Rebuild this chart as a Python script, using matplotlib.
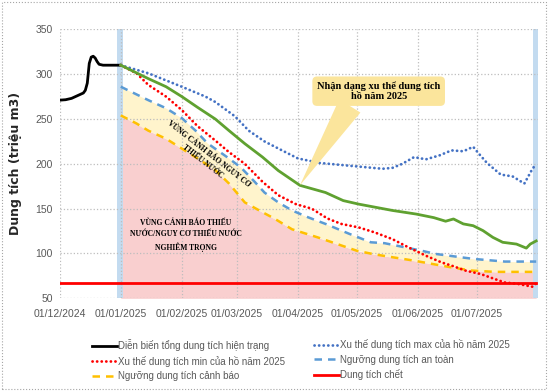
import numpy as np
import pandas as pd
import matplotlib
matplotlib.use('Agg')
import matplotlib.pyplot as plt
import matplotlib.dates as mdates
from matplotlib.patches import Rectangle

plt.rcParams['font.family'] = ['Liberation Sans Narrow', 'Liberation Sans', 'DejaVu Sans']

# --- du lieu doc tu hinh ---
black_dates = ['2024-12-01', '2024-12-04', '2024-12-07', '2024-12-11', '2024-12-13', '2024-12-14',
               '2024-12-15', '2024-12-16', '2024-12-17', '2024-12-18', '2024-12-19', '2024-12-20',
               '2024-12-21', '2024-12-23', '2025-01-01']
black_vals = [271, 271.5, 273, 277, 279, 282, 290, 312, 319, 320, 318, 314, 311, 310, 310]

max_dates = ['2025-01-01', '2025-01-15', '2025-02-01', '2025-02-13', '2025-02-18', '2025-02-28',
             '2025-03-07', '2025-03-15', '2025-03-23', '2025-04-01', '2025-04-12', '2025-04-29',
             '2025-05-14', '2025-05-19', '2025-05-24', '2025-05-30', '2025-06-05', '2025-06-12',
             '2025-06-18', '2025-06-24', '2025-06-29', '2025-07-02', '2025-07-06', '2025-07-13',
             '2025-07-19', '2025-07-25', '2025-07-29', '2025-07-31']
max_vals = [310, 301, 286, 275, 269, 253, 237, 225, 216, 206, 201, 197.5,
            194.5, 195.5, 200, 207.5, 205, 209.5, 215, 214, 219, 211, 201, 188,
            186, 178, 194, 200]

green_dates = ['2025-01-01', '2025-01-15', '2025-01-24', '2025-02-01', '2025-02-09', '2025-02-18',
               '2025-02-25', '2025-03-05', '2025-03-14', '2025-03-22', '2025-04-02', '2025-04-15',
               '2025-04-24', '2025-05-02', '2025-05-19', '2025-05-31', '2025-06-09', '2025-06-15',
               '2025-06-19', '2025-06-24', '2025-06-29', '2025-07-04', '2025-07-09', '2025-07-14',
               '2025-07-21', '2025-07-26', '2025-07-28', '2025-07-31']
green_vals = [310, 295, 286, 275, 263, 250, 237, 222.5, 207.5, 192.5, 176, 168,
              159, 155, 148, 144, 140, 136, 138.5, 133, 131, 125.5, 118, 112.5,
              110.5, 106, 110.5, 114]

min_dates = ['2025-01-01', '2025-01-09', '2025-01-15', '2025-01-24', '2025-02-01', '2025-02-09',
             '2025-02-18', '2025-02-25', '2025-03-05', '2025-03-14', '2025-03-22', '2025-03-31',
             '2025-04-08', '2025-04-16', '2025-04-23', '2025-05-02', '2025-05-10', '2025-05-19',
             '2025-05-27', '2025-06-05', '2025-06-13', '2025-06-18', '2025-06-25', '2025-07-03',
             '2025-07-10', '2025-07-15', '2025-07-22', '2025-07-29', '2025-07-31']
min_vals = [310, 301, 288, 275, 260, 242, 226, 213, 200, 180, 165, 155,
            150, 139, 133, 129, 123.5, 116, 107, 97.5, 90, 86.5, 81, 77,
            71.5, 67.7, 66, 63, 66.5]

safe_dates = ['2025-01-01', '2025-01-15', '2025-01-24', '2025-02-01', '2025-02-08', '2025-02-14',
              '2025-02-24', '2025-03-03', '2025-03-10', '2025-03-15', '2025-03-22', '2025-03-29',
              '2025-04-06', '2025-04-15', '2025-04-27', '2025-05-08', '2025-05-15', '2025-06-03',
              '2025-06-10', '2025-06-29', '2025-07-15', '2025-07-31']
safe_vals = [286, 271, 262, 251, 237, 223, 207.5, 196, 180, 168, 157, 148,
             140.5, 133, 122, 112.5, 111.5, 103, 99.5, 94, 91, 91]

warn_dates = ['2025-01-01', '2025-01-09', '2025-01-15', '2025-01-24', '2025-02-01', '2025-02-09',
              '2025-02-18', '2025-02-25', '2025-03-05', '2025-03-14', '2025-03-20', '2025-03-29',
              '2025-04-11', '2025-04-21', '2025-05-01', '2025-05-10', '2025-05-30', '2025-06-18',
              '2025-06-28', '2025-07-10', '2025-07-31']
warn_vals = [254, 245, 237, 228, 217, 206, 193, 178, 157, 146, 139, 127,
             118, 110.5, 103, 99, 92, 84.5, 81, 79.5, 79.5]

dead_dates = ['2024-12-01', '2025-07-31']
dead_vals = [67, 67]

month_ticks = ['2024-12-01', '2025-01-01', '2025-02-01', '2025-03-01', '2025-04-01',
               '2025-05-01', '2025-06-01', '2025-07-01']

labels = ['Diễn biến tổng dung tích hiện trạng', 'Xu thế dung tích min của hồ năm 2025',
          'Ngưỡng dung tích cảnh báo', 'Xu thế dung tích max của hồ năm 2025',
          'Ngưỡng dung tích an toàn', 'Dung tích chết']

d = lambda s: pd.to_datetime(s)

fig = plt.figure(figsize=(5.48, 3.91), dpi=100)
ax = fig.add_axes([0.109, 0.237, 0.873, 0.688])

# vung to mau
xw = d(warn_dates)
xs = d(safe_dates)
ax.fill_between(xw, 50, warn_vals, color='#f9cfcf', lw=0, zorder=1)
warn_on_safe = np.interp(mdates.date2num(xs), mdates.date2num(xw), warn_vals)
ax.fill_between(xs, warn_on_safe, safe_vals, color='#fff4cc', lw=0, zorder=1)

# cot xanh nhat
ax.axvspan(d('2024-12-30'), d('2025-01-02'), color='#c3dbf0', lw=0, zorder=1.5)
ax.axvspan(d('2025-07-29 12:00'), d('2025-08-01'), color='#c3dbf0', lw=0, zorder=1.5)

dot = dict(lw=2, dashes=(0.05, 1.6), dash_capstyle='round')
l_black, = ax.plot(d(black_dates), black_vals, color='black', lw=2, zorder=5)
l_max, = ax.plot(d(max_dates), max_vals, color='#4472c4', zorder=5, **dot)
l_min, = ax.plot(d(min_dates), min_vals, color='#ff0000', zorder=5, **dot)
ax.plot(d(green_dates), green_vals, color='#5fa130', lw=2, zorder=5)
l_safe, = ax.plot(xs, safe_vals, color='#5b9bd5', lw=1.8, dashes=(3, 2.4), zorder=4)
l_warn, = ax.plot(xw, warn_vals, color='#ffc000', lw=1.8, dashes=(3, 2.4), zorder=4)
l_dead, = ax.plot(d(dead_dates), dead_vals, color='#ff0000', lw=2, zorder=4)

ax.set_xlim(d('2024-12-01'), d('2025-08-01'))
ax.set_ylim(50, 350)
ax.set_yticks(range(50, 351, 50))
ax.set_xticks(d(month_ticks))
ax.xaxis.set_major_formatter(mdates.DateFormatter('%d/%m/%Y'))
ax.tick_params(axis='both', length=0, labelsize=7.5, colors='#595959')
ax.tick_params(axis='x', pad=8)
ax.tick_params(axis='y', pad=5)
ax.grid(True, linestyle=':', color='#bdbdbd', lw=0.9)
for s in ax.spines.values():
    s.set_visible(False)
ax.set_ylabel('Dung tích (triệu m3)', fontsize=9, fontweight='bold', color='#262626',
              family=['DejaVu Sans'], labelpad=10)

# chu thich trong vung
ax.text(d('2025-02-03'), 120, 'VÙNG CẢNH BÁO THIẾU\nNƯỚC/NGUY CƠ THIẾU NƯỚC\nNGHIÊM TRỌNG',
        ha='center', va='center', fontsize=5.5, fontweight='bold', family='Liberation Serif',
        linespacing=1.5, zorder=6)
ax.text(d('2025-02-13'), 207, 'VÙNG CẢNH BÁO NGUY CƠ\nTHIẾU NƯỚC', ha='center', va='center',
        rotation=-38, rotation_mode='anchor', fontsize=5.5, fontweight='bold',
        family='Liberation Serif', linespacing=1.2, zorder=6)

ax.annotate('Nhận dạng xu thể dung tích\nhồ năm 2025', xy=(d('2025-04-02'), 176),
            xytext=(d('2025-05-12'), 281), ha='center', va='center', fontsize=7.5,
            fontweight='bold', family='Liberation Serif', zorder=7,
            bbox=dict(boxstyle='round,pad=0.45', fc='#fbe59c', ec='none'),
            arrowprops=dict(arrowstyle='wedge,tail_width=2.4', fc='#fbe59c', ec='none',
                            relpos=(0.3, 0.1), shrinkA=0, shrinkB=0))

# chu giai
leg_kw = dict(frameon=False, fontsize=7, handlelength=2.6, handletextpad=0.15,
              labelspacing=0.45, labelcolor='#595959', borderaxespad=0)
fig.legend([l_black, l_min, l_warn], labels[:3], loc='upper left',
           bbox_to_anchor=(0.16, 0.142), **leg_kw)
fig.legend([l_max, l_safe, l_dead], labels[3:], loc='upper left',
           bbox_to_anchor=(0.565, 0.142), **leg_kw)

# khung vien
fig.patches.append(Rectangle((0.003, 0.004), 0.994, 0.992, transform=fig.transFigure,
                             fill=False, ec='#a6a6a6', lw=0.8, ls=':'))

fig.savefig('out.png', dpi=100)
